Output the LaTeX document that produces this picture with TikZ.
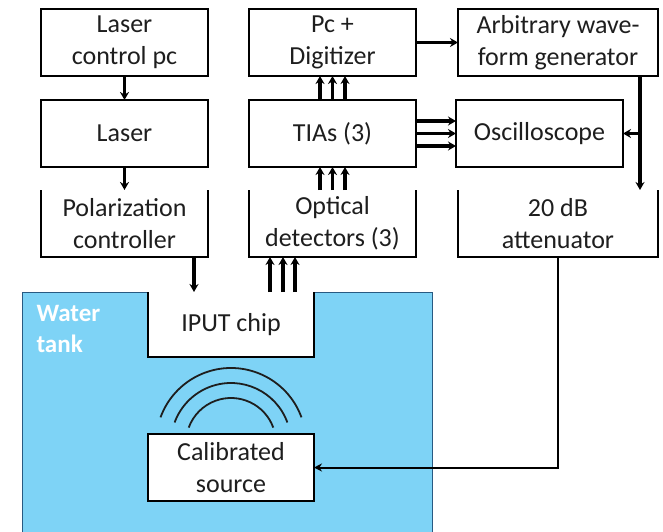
\documentclass[tikz,border=0pt]{standalone}
\usepackage{fontspec}
\setmainfont{Carlito}
\usepackage{xcolor}
\usepackage{tikz}
\usetikzlibrary{positioning,calc,arrows.meta}

\definecolor{tankblue}{RGB}{126,211,246}
\definecolor{tankedge}{RGB}{40,90,130}
\definecolor{inkgray}{RGB}{30,30,30}

\begin{document}
\begin{tikzpicture}[x=1pt, y=-1pt, >=Stealth,
    font=\fontsize{26}{32}\selectfont, text=inkgray,
    box/.style={draw, line width=1.8pt, align=center, minimum width=167pt,
                minimum height=67pt, inner sep=0pt, outer sep=0pt},
    openbox/.style={box, draw=none},
    arr/.style={-{Stealth[length=8pt, width=9pt]}, line width=3.2pt},
    thinarr/.style={-{Stealth[length=8pt, width=8pt]}, line width=2pt},
    wave/.style={line width=1.8pt, draw=inkgray}]
    \useasboundingbox (0,0) rectangle (663,532);
    % water tank
    \fill[tankblue] (22,292) rectangle (432,532);
    \draw[tankedge, line width=1pt] (22,532) -- (22,292) -- (148,292)
        (314,292) -- (432,292) -- (432,532);
    \node[anchor=north west, align=left, text=white,
          font=\fontsize{25}{31}\selectfont\bfseries] (wt) at (33,302) {Water\\tank};
    \node[openbox, fill=white, minimum width=166pt, minimum height=65pt] (chip) at (231,324.5) {IPUT chip};
    \node[box, fill=white, minimum width=166pt] (src) at (231,467.5) {Calibrated\\source};
    % boxes
    \node[box] (lpc) at (124.5,42.5) {Laser\\control pc};
    \node[box, below=24pt of lpc] (laser) {Laser};
    \node[openbox, below=23pt of laser] (pol) {Polarization\\controller};
    \node[box, right=41pt of lpc] (pcd) {Pc +\\Digitizer};
    \node[box, right=41pt of laser] (tia) {TIAs (3)};
    \node[openbox, right=41pt of pol] (det) {Optical\\detectors (3)};
    \node[box, right=42pt of pcd, minimum width=200pt] (awg) {Arbitrary wave-\\form generator};
    \node[box, right=40pt of tia] (osc) {Oscilloscope};
    \node[openbox, right=42pt of det, minimum width=200pt] (att) {20 dB\\attenuator};
    \foreach \n in {pol,det,att,chip}
        \draw[line width=1.8pt] (\n.north west) -- (\n.south west) -- (\n.south east) -- (\n.north east);
    % connections
    \draw[arr] (lpc) -- (laser);
    \draw[arr] (laser) -- (pol);
    \draw[arr] ([xshift=-14pt]pol.south east) -- ([xshift=-14pt]pol.south east |- chip.north);
    \foreach \dx in {-44,-31,-19}
        \draw[arr] ([xshift=\dx pt]chip.north east) -- ([xshift=\dx pt]chip.north east |- det.south);
    \foreach \dx in {-12.5,0,12.5} {
        \draw[arr] ([xshift=\dx pt]det.north) -- ([xshift=\dx pt]tia.south);
        \draw[arr] ([xshift=\dx pt]tia.north) -- ([xshift=\dx pt]pcd.south);
        \draw[arr] ([yshift=\dx pt]tia.east) -- ([yshift=\dx pt]osc.west);
    }
    \draw[arr] (pcd) -- (awg);
    \draw[arr] ([xshift=-18pt]awg.south east) -- ([xshift=-18pt]att.north east);
    \draw[arr] ([xshift=-18pt]awg.south east |- osc.east) -- (osc.east);
    \draw[thinarr] (att.south) |- (src.east);
    % sound waves
    \coordinate (wc) at ([yshift=-9pt]src.north);
    \foreach \r in {45,60,75}
        \draw[wave] (wc) ++(-20:\r) arc[start angle=-20, end angle=-160, radius=\r];
\end{tikzpicture}
\end{document}
